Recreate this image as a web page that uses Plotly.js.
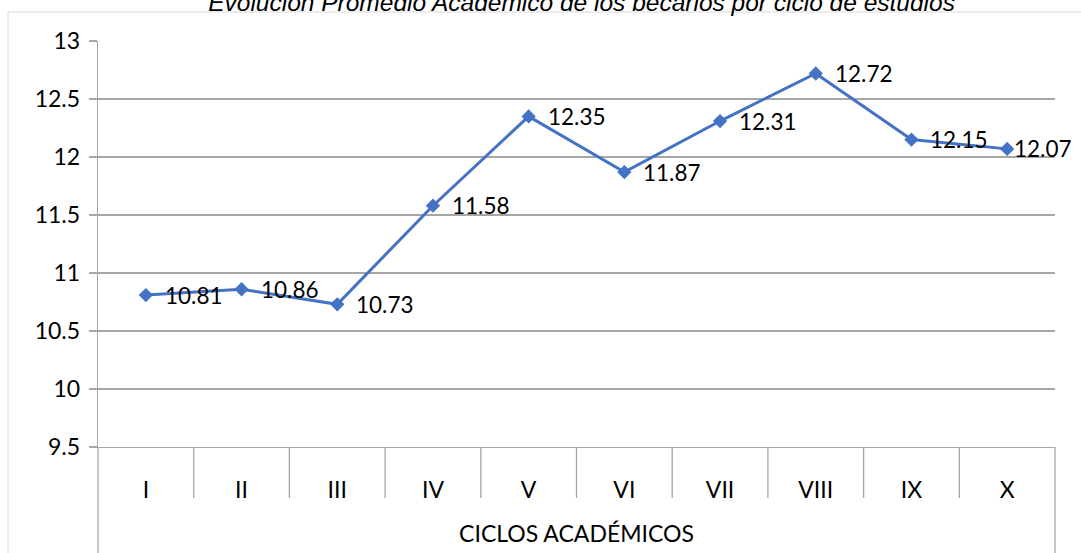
<!DOCTYPE html>
<html><head><meta charset="utf-8">
<script src="https://cdn.plot.ly/plotly-3.0.1.min.js"></script>
<style>html,body{margin:0;padding:0;background:#fff}#c{width:1081px;height:553px}</style>
</head><body><div id="c"></div>
<script>
const ciclos = ['I','II','III','IV','V','VI','VII','VIII','IX','X'];
const promedios = [10.81, 10.86, 10.73, 11.58, 12.35, 11.87, 12.31, 12.72, 12.15, 12.07];
const etiquetas = promedios.map(v => v.toFixed(2));
const titulo = 'Evolución Promedio Académico de los becarios por ciclo de estudios';
const tituloEje = 'CICLOS ACADÉMICOS';

const FONT = 'Lato, "Noto Sans", sans-serif';
const grey = '#a6a6a6';

const trace = {
  x: ciclos, y: promedios,
  type: 'scatter', mode: 'lines+markers',
  line: {color: '#4472C4', width: 3},
  marker: {symbol: 'diamond', size: 11, color: '#4472C4'},
  cliponaxis: false, hoverinfo: 'skip'
};

const annotations = ciclos.map((c, i) => ({
  x: c, y: promedios[i], xref: 'x', yref: 'y', text: etiquetas[i],
  showarrow: false, xanchor: 'left', yanchor: 'middle',
  xshift: (i === ciclos.length - 1) ? 5 : 17, yshift: 0,
  font: {family: FONT, size: 22.5, color: '#000'}
}));

const shapes = [];
shapes.push({type:'rect', xref:'paper', yref:'paper', x0:-0.094, x1:1.2, y0:-0.5, y1:1.0714, line:{color:'#d9d9d9', width:1}});
shapes.push({type:'line', xref:'paper', yref:'paper', x0:0, x1:0, y0:-0.3, y1:0, line:{color:grey, width:1.3}});
shapes.push({type:'line', xref:'paper', yref:'paper', x0:1, x1:1, y0:-0.3, y1:0, line:{color:grey, width:1.3}});
for (let i = 1; i < ciclos.length; i++) {
  shapes.push({type:'line', xref:'x', yref:'paper', x0:i-0.5, x1:i-0.5, y0:-0.1256, y1:0, line:{color:grey, width:1.3}});
}

const layout = {
  width: 1081, height: 553,
  margin: {l: 98, r: 26, t: 41, b: 106},
  paper_bgcolor: '#fff', plot_bgcolor: '#fff',
  showlegend: false,
  title: {text: '<i>' + titulo + '</i>', x: 0.538, xanchor: 'center', yref: 'container', y: 0.995, yanchor: 'middle',
          font: {family: '"Liberation Sans Narrow", "Liberation Sans", Arial, sans-serif', size: 24.5, color: '#000'}},
  xaxis: {
    type: 'category', range: [-0.5, 9.5], showgrid: false, zeroline: false,
    showline: true, linecolor: grey, linewidth: 1.3,
    ticks: '', ticklabelstandoff: 22,
    tickfont: {family: FONT, size: 23, color: '#000'},
    title: {text: tituloEje, font: {family: FONT, size: 23, color: '#000'}, standoff: 24}
  },
  yaxis: {
    range: [9.5, 13], dtick: 0.5, tick0: 9.5,
    showgrid: true, gridcolor: grey, gridwidth: 1.3, zeroline: false,
    showline: true, linecolor: grey, linewidth: 1.3,
    ticks: 'outside', ticklen: 8, tickcolor: grey, tickwidth: 1.3, ticklabelstandoff: 4,
    tickfont: {family: FONT, size: 23, color: '#000'}
  },
  shapes: shapes,
  annotations: annotations
};

Plotly.newPlot('c', [trace], layout, {staticPlot: true, displayModeBar: false});
</script></body></html>
